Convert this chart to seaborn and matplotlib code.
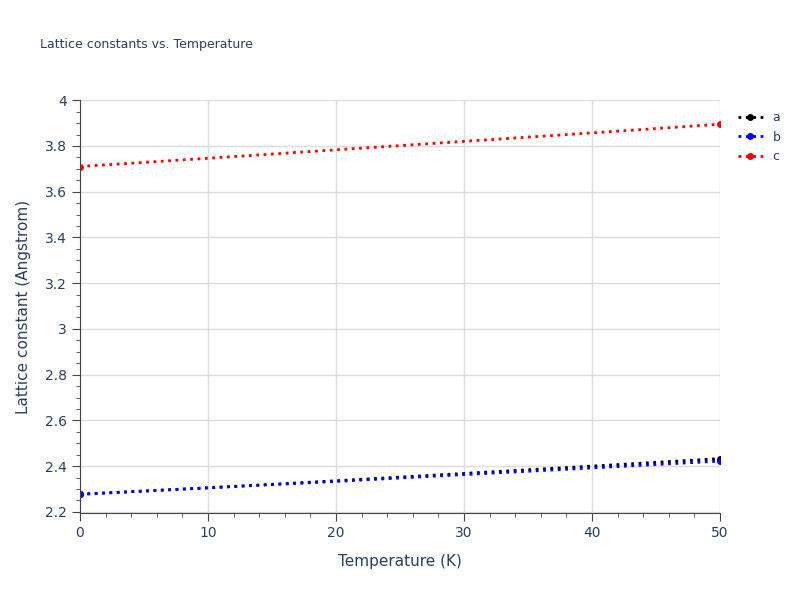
import matplotlib.pyplot as plt
import seaborn as sns
import numpy as np

sns.set_style("white")

temps = [0, 10, 20, 30, 40, 50]
lat_a = [2.277, 2.305, 2.336, 2.368, 2.400, 2.433]
lat_b = [2.277, 2.305, 2.333, 2.363, 2.392, 2.422]
lat_c = [3.710, 3.746, 3.783, 3.820, 3.857, 3.895]

fig = plt.figure(figsize=(8, 6), dpi=100)
ax = fig.add_axes([0.1, 0.145, 0.8, 0.688])

for name, vals, col in [('a', lat_a, 'black'), ('b', lat_b, 'blue'), ('c', lat_c, 'red')]:
    sns.lineplot(x=temps, y=vals, ax=ax, color=col, linestyle=':', linewidth=2,
                 marker='o', markersize=5, markevery=[0, len(temps) - 1],
                 markeredgewidth=0, label=name)

ax.set_xlim(0, 50)
ax.set_ylim(2.195, 4.0)
ax.set_xticks([0, 10, 20, 30, 40, 50])
ax.set_yticks(np.arange(2.2, 4.01, 0.2))
ax.set_yticklabels(['2.2', '2.4', '2.6', '2.8', '3', '3.2', '3.4', '3.6', '3.8', '4'])
ax.set_xticks(np.arange(0, 51, 2), minor=True)
ax.set_yticks(np.arange(2.2, 4.0, 0.05), minor=True)
ax.grid(True, which='major', color='#dddddd', linewidth=1)
ax.set_axisbelow(True)
for s in ['top', 'right']:
    ax.spines[s].set_visible(False)
for s in ['left', 'bottom']:
    ax.spines[s].set_color('#444444')
ax.tick_params(axis='both', which='major', length=6, color='#444444', labelcolor='#2a3f5f', labelsize=10, direction='out')
ax.tick_params(axis='both', which='minor', length=3, color='#444444', direction='out')
ax.tick_params(left=True, bottom=True, which='both')
ax.set_xlabel('Temperature (K)', fontsize=11, color='#2a3f5f', labelpad=10)
ax.set_ylabel('Lattice constant (Angstrom)', fontsize=11, color='#2a3f5f', labelpad=10)
fig.text(0.05, 0.92, 'Lattice constants vs. Temperature', fontsize=9, color='#2a3f5f')

leg = ax.legend(loc='upper left', bbox_to_anchor=(1.01, 1.0), frameon=False, fontsize=9,
                handlelength=2, labelcolor='#2a3f5f')

plt.savefig('out.png', dpi=100)
